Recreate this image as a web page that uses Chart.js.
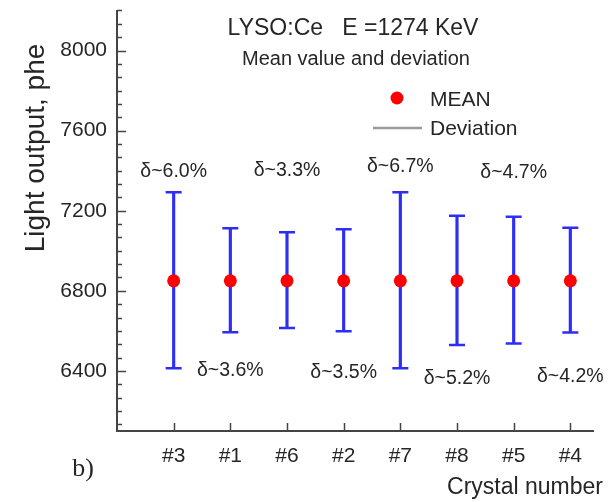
<!DOCTYPE html>
<html>
<head>
<meta charset="utf-8">
<script src="https://cdn.jsdelivr.net/npm/chart.js@4.4.1/dist/chart.umd.min.js"></script>
<style>
  html, body { margin: 0; padding: 0; background: #fff; }
  #wrap { width: 608px; height: 502px; }
</style>
</head>
<body>
<div id="wrap"><canvas id="grafico"></canvas></div>
<script>
const crystals = ["#3", "#1", "#6", "#2", "#7", "#8", "#5", "#4"];
const meanValues = [6850, 6850, 6850, 6850, 6850, 6850, 6850, 6850];
const upperValues = [7292, 7113, 7092, 7108, 7292, 7175, 7170, 7115];
const lowerValues = [6413, 6593, 6614, 6598, 6413, 6530, 6537, 6592];
const deltaLabels = ["δ~6.0%", "δ~3.6%", "δ~3.3%", "δ~3.5%", "δ~6.7%", "δ~5.2%", "δ~4.7%", "δ~4.2%"];
const deltaLabelY = [7395, 6402, 7398, 6392, 7420, 6362, 7390, 6372];
const yTicks = [6400, 6800, 7200, 7600, 8000];

const AZUL = "#2d2df5";
const TEXTO = "#262626";
const FONTE = "'Liberation Sans', Arial, sans-serif";

// ticks, textos e legenda desenhados por cima
const extras = {
    id: "extras",
    afterDraw(chart) {
        const { ctx, chartArea: area, scales: { x, y } } = chart;
        ctx.save();

        // ticks para dentro no eixo y (menores a cada 400/6)
        ctx.strokeStyle = "#444";
        ctx.lineWidth = 1.5;
        const passo = 400 / 6;
        for (let v = 6400 - 4 * passo; v <= 8200.1; v += passo) {
            const py = Math.round(y.getPixelForValue(v)) + 0.5;
            const maior = Math.abs(v / 400 - Math.round(v / 400)) < 0.001;
            ctx.beginPath();
            ctx.moveTo(area.left, py);
            ctx.lineTo(area.left + (maior ? 9 : 5), py);
            ctx.stroke();
        }
        crystals.forEach((c, i) => {
            const px = Math.round(x.getPixelForValue(i + 1)) + 0.5;
            ctx.beginPath();
            ctx.moveTo(px, area.bottom);
            ctx.lineTo(px, area.bottom - 8);
            ctx.stroke();
        });

        ctx.fillStyle = TEXTO;
        ctx.textBaseline = "alphabetic";
        ctx.textAlign = "center";
        ctx.font = "23px " + FONTE;
        ctx.fillText("LYSO:Ce   E =1274 KeV", 353, 35);
        ctx.font = "20px " + FONTE;
        ctx.fillText("Mean value and deviation", 356, 65);

        // legenda
        ctx.beginPath();
        ctx.fillStyle = "#ff0000";
        ctx.arc(397, 98, 6.5, 0, Math.PI * 2);
        ctx.fill();
        ctx.strokeStyle = "#9a9a9a";
        ctx.lineWidth = 2.5;
        ctx.beginPath();
        ctx.moveTo(373, 128);
        ctx.lineTo(422, 128);
        ctx.stroke();
        ctx.fillStyle = TEXTO;
        ctx.textAlign = "left";
        ctx.font = "21px " + FONTE;
        ctx.fillText("MEAN", 430, 106);
        ctx.fillText("Deviation", 430, 135);

        // rótulos de desvio
        ctx.textAlign = "center";
        ctx.textBaseline = "middle";
        ctx.font = "19.5px " + FONTE;
        deltaLabels.forEach((t, i) => {
            ctx.fillText(t, x.getPixelForValue(i + 1), y.getPixelForValue(deltaLabelY[i]));
        });

        // títulos dos eixos
        ctx.font = "23px " + FONTE;
        ctx.textAlign = "right";
        ctx.fillText("Crystal number", 603, 488);

        ctx.save();
        ctx.translate(36, 148);
        ctx.rotate(-Math.PI / 2);
        ctx.textAlign = "center";
        ctx.font = "28px " + FONTE;
        ctx.fillText("Light output, phe", 0, 0);
        ctx.restore();

        ctx.textAlign = "center";
        ctx.font = "26px 'Liberation Serif', 'Times New Roman', serif";
        ctx.fillText("b)", 83, 469);

        ctx.restore();
    }
};

const ctx = document.getElementById("grafico").getContext("2d");

new Chart(ctx, {
    type: "scatter",
    data: {
        datasets: [
            {
                type: "bar",
                data: crystals.map((c, i) => ({ x: i + 1, y: [lowerValues[i], upperValues[i]] })),
                backgroundColor: AZUL,
                barThickness: 2.5,
                order: 3
            },
            {
                data: crystals.flatMap((c, i) => [
                    { x: i + 1, y: upperValues[i] },
                    { x: i + 1, y: lowerValues[i] }
                ]),
                pointStyle: "line",
                pointRadius: 8,
                pointBorderColor: AZUL,
                pointBorderWidth: 2.5,
                order: 2
            },
            {
                data: crystals.map((c, i) => ({ x: i + 1, y: meanValues[i] })),
                pointStyle: "circle",
                pointRadius: 6.5,
                pointBackgroundColor: "#ff0000",
                pointBorderColor: "#ff0000",
                pointBorderWidth: 0,
                order: 1
            }
        ]
    },
    options: {
        responsive: true,
        maintainAspectRatio: false,
        animation: false,
        events: [],
        layout: { padding: { left: 0, right: 15, top: 10, bottom: 0 } },
        plugins: {
            legend: { display: false },
            tooltip: { enabled: false }
        },
        scales: {
            x: {
                type: "linear",
                min: 0,
                max: 8.4,
                offset: false,
                afterBuildTicks: s => { s.ticks = crystals.map((c, i) => ({ value: i + 1 })); },
                afterFit: s => { s.height = 71; s.paddingLeft = 0; s.paddingRight = 0; },
                grid: { drawOnChartArea: false, drawTicks: false, offset: false },
                border: { color: "#444", width: 2 },
                ticks: {
                    callback: v => crystals[v - 1],
                    font: { size: 21, family: FONTE },
                    color: TEXTO,
                    padding: 13,
                    autoSkip: false,
                    maxRotation: 0
                }
            },
            y: {
                min: 6100,
                max: 8200,
                afterBuildTicks: s => { s.ticks = yTicks.map(v => ({ value: v })); },
                afterFit: s => { s.width = 117; s.paddingTop = 0; s.paddingBottom = 0; },
                grid: { drawOnChartArea: false, drawTicks: false },
                border: { color: "#444", width: 2 },
                ticks: {
                    callback: v => String(v),
                    font: { size: 21, family: FONTE },
                    color: TEXTO,
                    padding: 10
                }
            }
        }
    },
    plugins: [extras]
});
</script>
</body>
</html>
